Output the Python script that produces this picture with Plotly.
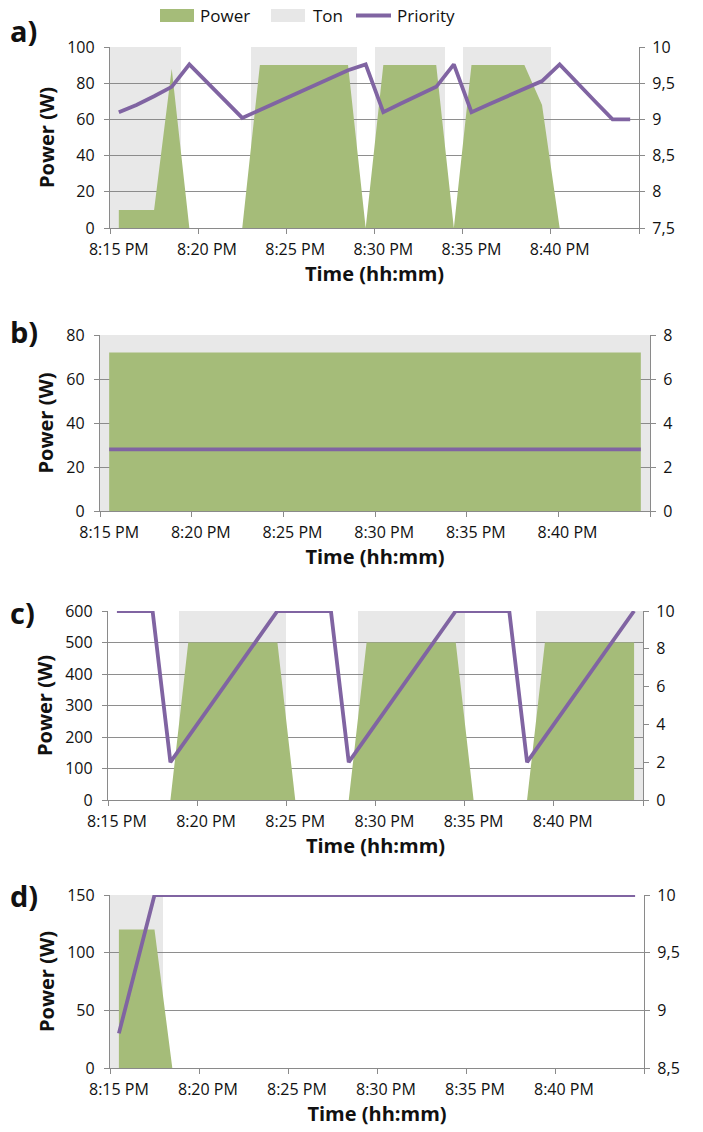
import plotly.graph_objects as go

# ---------------- data ----------------
times = ["8:15 PM", "8:16 PM", "8:17 PM", "8:18 PM", "8:19 PM", "8:20 PM", "8:21 PM", "8:22 PM",
         "8:23 PM", "8:24 PM", "8:25 PM", "8:26 PM", "8:27 PM", "8:28 PM", "8:29 PM", "8:30 PM",
         "8:31 PM", "8:32 PM", "8:33 PM", "8:34 PM", "8:35 PM", "8:36 PM", "8:37 PM", "8:38 PM",
         "8:39 PM", "8:40 PM", "8:41 PM", "8:42 PM", "8:43 PM", "8:44 PM"]
xtick_labels = ["8:15 PM", "8:20 PM", "8:25 PM", "8:30 PM", "8:35 PM", "8:40 PM"]

power_a = [10, 10, 10, 88, 0, 0, 0, 0, 90, 90, 90, 90, 90, 90, 0, 90, 90, 90, 90, 0,
           90, 90, 90, 90, 68, 0, 0, 0, 0, 0]
ton_a = [100, 100, 100, 100, 0, 0, 0, 0, 100, 100, 100, 100, 100, 100, 0, 100, 100, 100, 100, 0,
         100, 100, 100, 100, 100, 0, 0, 0, 0, 0]
prio_a = [9.1, 9.2, 9.32, 9.45, 9.76, 9.51, 9.27, 9.02, 9.13, 9.24, 9.35, 9.46, 9.57, 9.68, 9.76,
          9.1, 9.22, 9.33, 9.45, 9.76, 9.1, 9.21, 9.32, 9.42, 9.53, 9.76, 9.5, 9.25, 9.0, 9.0]

power_b = [72, 72, 72, 72, 72, 72, 72, 72, 72, 72, 72, 72, 72, 72, 72,
           72, 72, 72, 72, 72, 72, 72, 72, 72, 72, 72, 72, 72, 72, 72]
ton_b = [80, 80, 80, 80, 80, 80, 80, 80, 80, 80, 80, 80, 80, 80, 80,
         80, 80, 80, 80, 80, 80, 80, 80, 80, 80, 80, 80, 80, 80, 80]
prio_b = [2.8, 2.8, 2.8, 2.8, 2.8, 2.8, 2.8, 2.8, 2.8, 2.8, 2.8, 2.8, 2.8, 2.8, 2.8,
          2.8, 2.8, 2.8, 2.8, 2.8, 2.8, 2.8, 2.8, 2.8, 2.8, 2.8, 2.8, 2.8, 2.8, 2.8]

power_c = [0, 0, 0, 0, 500, 500, 500, 500, 500, 500, 0, 0, 0, 0, 500, 500, 500, 500, 500, 500,
           0, 0, 0, 0, 500, 500, 500, 500, 500, 500]
ton_c = [0, 0, 0, 0, 600, 600, 600, 600, 600, 600, 0, 0, 0, 0, 600, 600, 600, 600, 600, 600,
         0, 0, 0, 0, 600, 600, 600, 600, 600, 600]
prio_c = [10, 10, 10, 2, 3.33, 4.67, 6, 7.33, 8.67, 10, 10, 10, 10, 2, 3.33, 4.67, 6, 7.33, 8.67, 10,
          10, 10, 10, 2, 3.33, 4.67, 6, 7.33, 8.67, 10]

power_d = [120, 120, 120, 0, 0, 0, 0, 0, 0, 0, 0, 0, 0, 0, 0,
           0, 0, 0, 0, 0, 0, 0, 0, 0, 0, 0, 0, 0, 0, 0]
ton_d = [150, 150, 150, 0, 0, 0, 0, 0, 0, 0, 0, 0, 0, 0, 0,
         0, 0, 0, 0, 0, 0, 0, 0, 0, 0, 0, 0, 0, 0, 0]
prio_d = [8.8, 9.4, 10, 10, 10, 10, 10, 10, 10, 10, 10, 10, 10, 10, 10,
          10, 10, 10, 10, 10, 10, 10, 10, 10, 10, 10, 10, 10, 10, 10]

left_ticks_a = [0, 20, 40, 60, 80, 100]
right_ticks_a = [7.5, 8, 8.5, 9, 9.5, 10]
right_labels_a = ["7,5", "8", "8,5", "9", "9,5", "10"]
left_ticks_b = [0, 20, 40, 60, 80]
right_ticks_b = [0, 2, 4, 6, 8]
right_labels_b = ["0", "2", "4", "6", "8"]
left_ticks_c = [0, 100, 200, 300, 400, 500, 600]
right_ticks_c = [0, 2, 4, 6, 8, 10]
right_labels_c = ["0", "2", "4", "6", "8", "10"]
left_ticks_d = [0, 50, 100, 150]
right_ticks_d = [8.5, 9, 9.5, 10]
right_labels_d = ["8,5", "9", "9,5", "10"]

# ---------------- style ----------------
W, H = 703, 1132
GREEN = "#a5bc79"
GRAY = "rgba(125,125,125,0.18)"
PURPLE = "#8064a2"
GRID = "#8e8e8e"
AX = "#8a8a8a"
FONT = "Open Sans"
TICKFONT = dict(family=FONT, size=16, color="#111")
TITLEFONT = dict(family=FONT, size=20, color="#111")

panels = [
    dict(power=power_a, ton=ton_a, prio=prio_a, lt=left_ticks_a, rt=right_ticks_a, rl=right_labels_a,
         box=(110, 639, 47, 228), label="a)", ly=31),
    dict(power=power_b, ton=ton_b, prio=prio_b, lt=left_ticks_b, rt=right_ticks_b, rl=right_labels_b,
         box=(100, 650, 335, 511), label="b)", ly=331),
    dict(power=power_c, ton=ton_c, prio=prio_c, lt=left_ticks_c, rt=right_ticks_c, rl=right_labels_c,
         box=(108, 643, 611, 800), label="c)", ly=612),
    dict(power=power_d, ton=ton_d, prio=prio_d, lt=left_ticks_d, rt=right_ticks_d, rl=right_labels_d,
         box=(110, 644, 895, 1068), label="d)", ly=895),
]

x_idx = list(range(len(times)))
xtick_pos = [times.index(t) for t in xtick_labels]

fig = go.Figure()
layout = dict(width=W, height=H, margin=dict(l=0, r=0, t=0, b=0, autoexpand=False),
              plot_bgcolor="white", paper_bgcolor="white", showlegend=False, bargap=0)
annotations = []


def yname(n):
    return "y" if n == 1 else f"y{n}"


def ykey(n):
    return "yaxis" if n == 1 else f"yaxis{n}"


for k, p in enumerate(panels, start=1):
    xr = "x" if k == 1 else f"x{k}"
    xkey = "xaxis" if k == 1 else f"xaxis{k}"
    pn, sn = 2 * k - 1, 2 * k
    x0, x1, top, bot = p["box"]

    fig.add_trace(go.Bar(x=x_idx, y=p["ton"], width=1, marker=dict(color=GRAY, line=dict(width=0)),
                         name="Ton", xaxis=xr, yaxis=yname(pn), hoverinfo="skip"))
    fig.add_trace(go.Scatter(x=x_idx, y=p["power"], mode="lines", fill="tozeroy", fillcolor=GREEN,
                             line=dict(width=0, color=GREEN), name="Power", xaxis=xr, yaxis=yname(pn)))
    fig.add_trace(go.Scatter(x=x_idx, y=p["prio"], mode="lines", line=dict(width=3.8, color=PURPLE),
                             name="Priority", xaxis=xr, yaxis=yname(sn)))

    layout[xkey] = dict(
        domain=[x0 / W, x1 / W], anchor=yname(pn), range=[-0.5, len(times) - 0.5], automargin=False,
        tickmode="array", tickvals=xtick_pos, ticktext=xtick_labels,
        ticks="outside", ticklen=7, tickcolor="rgba(0,0,0,0)",
        minor=dict(ticks="outside", ticklen=5, tickcolor=AX, tickwidth=1.3, tickmode="linear",
                   tick0=-0.5, dtick=5, showgrid=False),
        showline=True, linecolor=AX, linewidth=1.3, showgrid=False, zeroline=False,
        tickfont=TICKFONT, fixedrange=True,
        title=dict(text="<b>Time (hh:mm)</b>", font=TITLEFONT, standoff=1),
    )
    layout[ykey(pn)] = dict(
        domain=[1 - bot / H, 1 - top / H], anchor=xr, range=[p["lt"][0], p["lt"][-1]], automargin=False,
        tickmode="array", tickvals=p["lt"], ticks="outside", ticklen=5, tickcolor=AX, tickwidth=1.3,
        ticklabelstandoff=6,
        showline=True, linecolor=AX, linewidth=1.3, showgrid=True, gridcolor=GRID, gridwidth=1.3,
        zeroline=False, tickfont=TICKFONT, fixedrange=True,
        title=dict(text="<b>Power (W)</b>", font=TITLEFONT, standoff=7),
    )
    layout[ykey(sn)] = dict(
        overlaying=yname(pn), side="right", anchor=xr, range=[p["rt"][0], p["rt"][-1]], automargin=False,
        tickmode="array", tickvals=p["rt"], ticktext=p["rl"], ticks="outside", ticklen=5,
        ticklabelstandoff=4,
        tickcolor=AX, tickwidth=1.3, showline=True, linecolor=AX, linewidth=1.3, showgrid=False,
        zeroline=False, tickfont=TICKFONT, fixedrange=True,
    )
    annotations.append(dict(text="<b>" + p["label"] + "</b>", x=8 / W, y=1 - p["ly"] / H,
                            xref="paper", yref="paper", xanchor="left", yanchor="middle",
                            showarrow=False, font=dict(family=FONT, size=29, color="#111")))

# ---------------- legend (top) ----------------
shapes = [
    dict(type="rect", xref="paper", yref="paper", x0=160 / W, x1=194 / W, y0=1 - 22 / H, y1=1 - 9 / H,
         fillcolor=GREEN, line=dict(width=0)),
    dict(type="rect", xref="paper", yref="paper", x0=271 / W, x1=305 / W, y0=1 - 22 / H, y1=1 - 9 / H,
         fillcolor="#e7e7e7", line=dict(width=0)),
    dict(type="line", xref="paper", yref="paper", x0=356 / W, x1=391 / W, y0=1 - 15.5 / H,
         y1=1 - 15.5 / H, line=dict(color=PURPLE, width=4)),
]
for txt, xp in [("Power", 198), ("Ton", 311), ("Priority", 395)]:
    annotations.append(dict(text=txt, x=xp / W, y=1 - 15.5 / H, xref="paper", yref="paper",
                            xanchor="left", yanchor="middle", showarrow=False,
                            font=dict(family=FONT, size=17, color="#111")))

layout["annotations"] = annotations
layout["shapes"] = shapes
fig.update_layout(**layout)
fig.write_html("out.html", config={"displayModeBar": False})
